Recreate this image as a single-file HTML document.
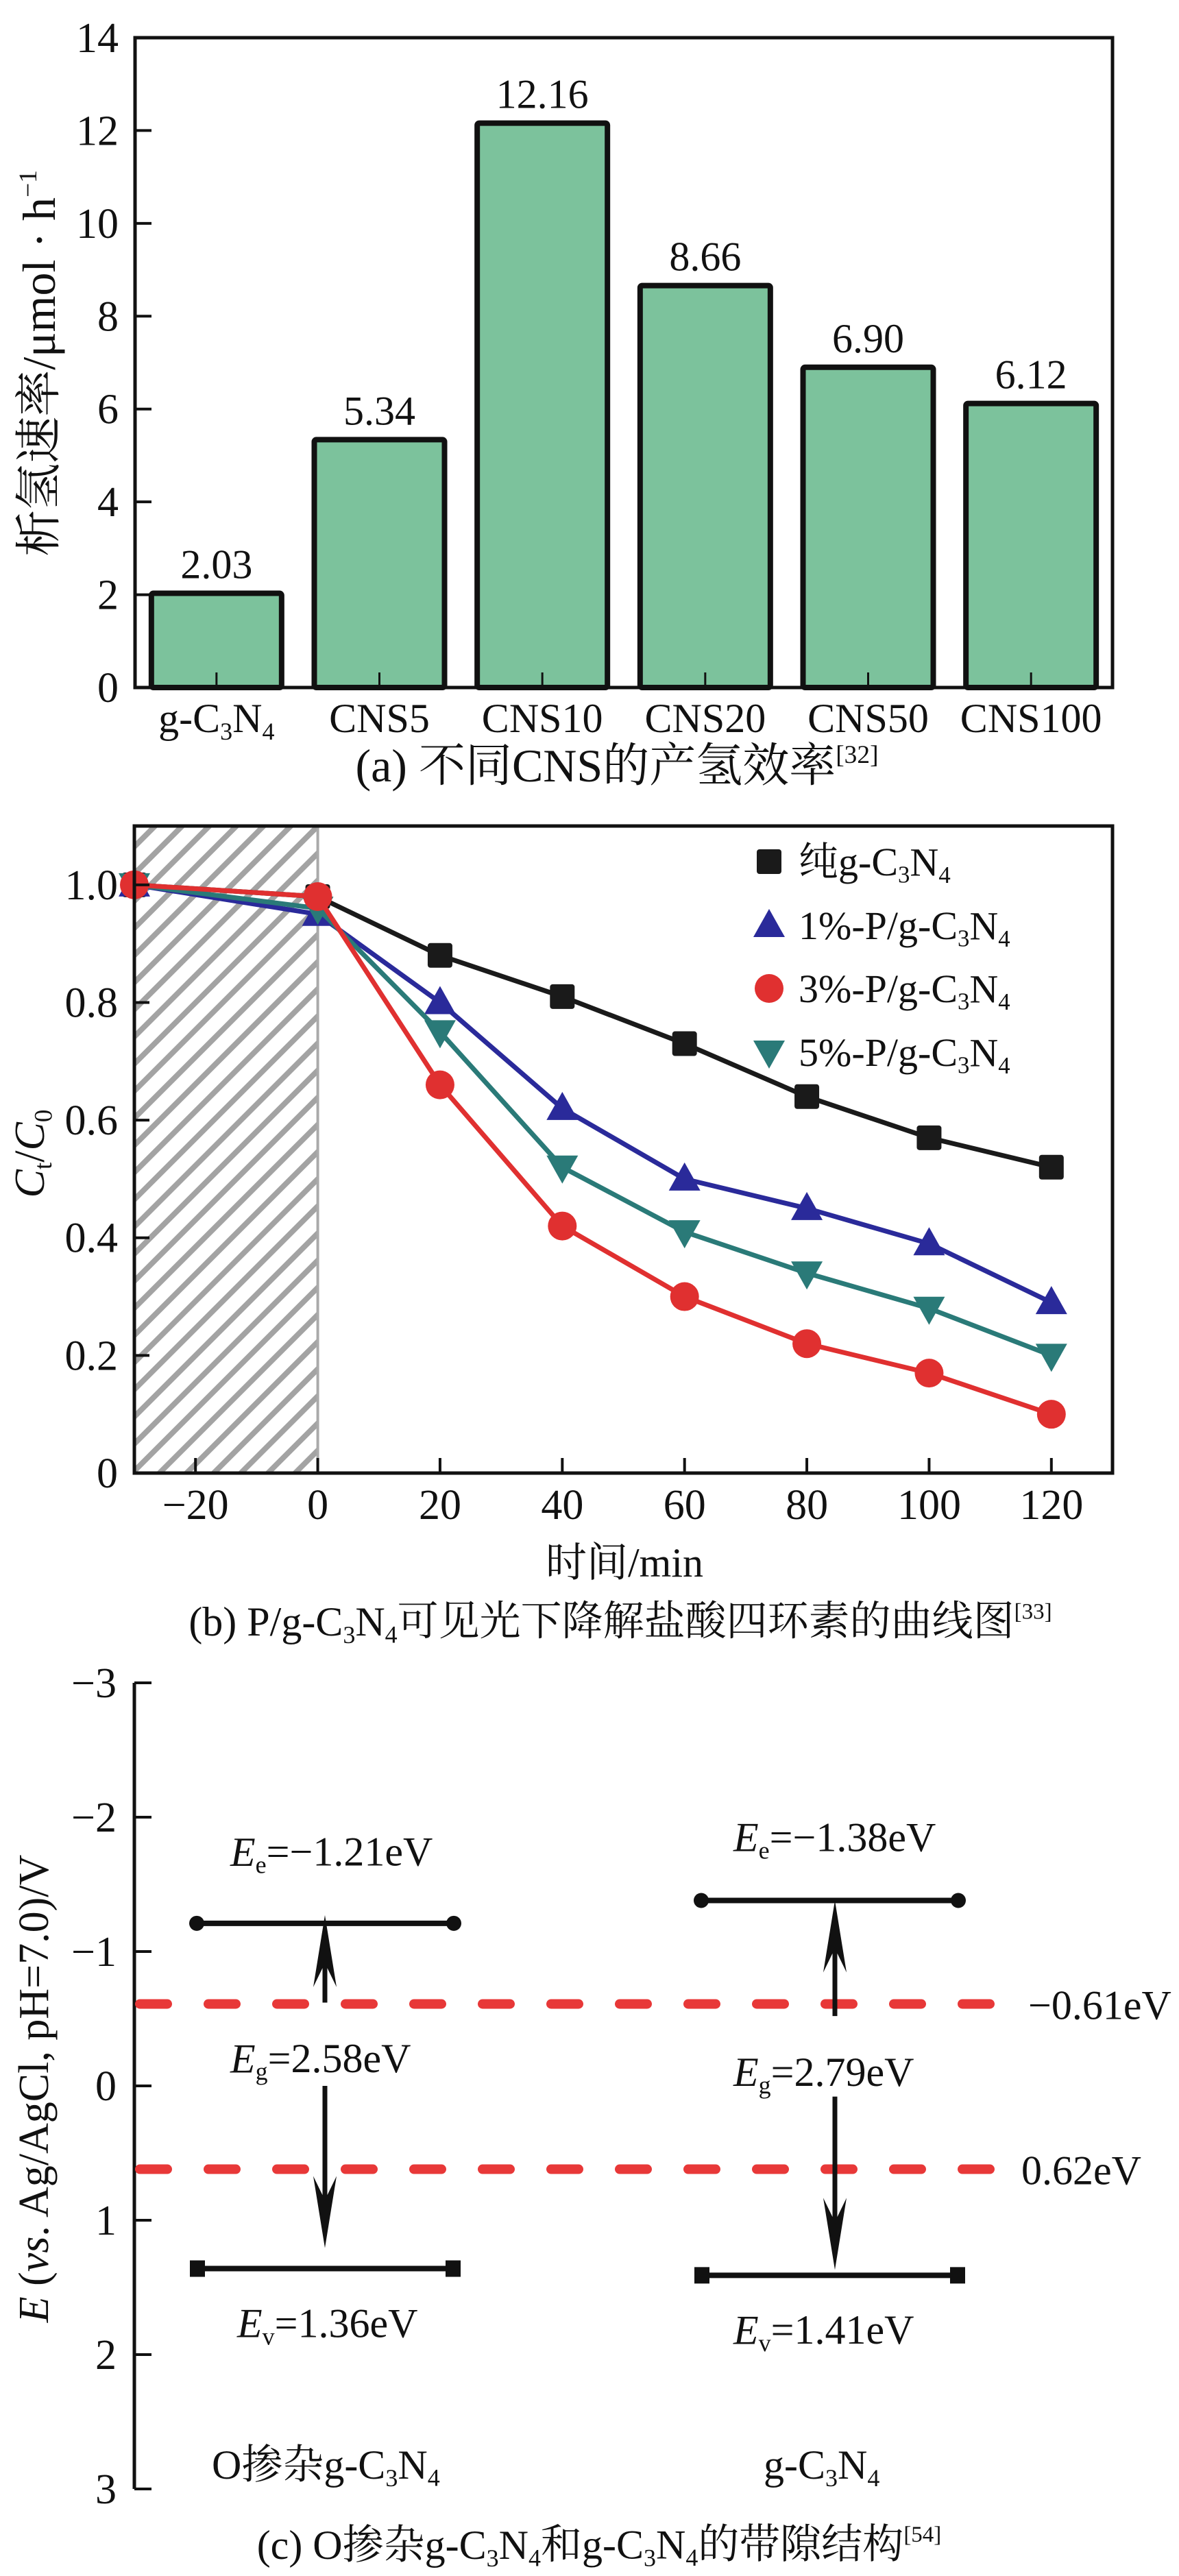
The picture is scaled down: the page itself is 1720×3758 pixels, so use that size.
<!DOCTYPE html>
<html><head><meta charset="utf-8">
<style>
html,body{margin:0;padding:0;background:#fff;}
svg{display:block;}
text{font-family:"Liberation Serif","Noto Serif CJK SC",serif;fill:#111;}
</style></head>
<body>
<svg id="fig" width="1720" height="3758" viewBox="0 0 1720 3758" xmlns="http://www.w3.org/2000/svg">
<defs>
<pattern id="hatch" patternUnits="userSpaceOnUse" width="28" height="28" patternTransform="rotate(45)">
<rect width="28" height="28" fill="#fff"/>
<rect x="0" y="0" width="8" height="28" fill="#a3a3a3"/>
</pattern>
</defs>
<g id="chartA"></g>
<g id="chartB"></g>
<g id="chartC"></g>
</svg>
<script>
// ---------- Chart A data ----------
const aCategories = ["g-C3N4","CNS5","CNS10","CNS20","CNS50","CNS100"];
const aValues = [2.03, 5.34, 12.16, 8.66, 6.90, 6.12];
const aValueLabels = ["2.03","5.34","12.16","8.66","6.90","6.12"];
const aTicks = [0,2,4,6,8,10,12,14];

// ---------- Chart B data ----------
const bTimes = [-30, 0, 20, 40, 60, 80, 100, 120];
const bPure = [1.0, 0.98, 0.88, 0.81, 0.73, 0.64, 0.57, 0.52];
const bP1 = [1.0, 0.95, 0.80, 0.62, 0.50, 0.45, 0.39, 0.29];
const bP3 = [1.0, 0.98, 0.66, 0.42, 0.30, 0.22, 0.17, 0.10];
const bP5 = [1.0, 0.96, 0.75, 0.52, 0.41, 0.34, 0.28, 0.20];
const bXTicks = [-20, 0, 20, 40, 60, 80, 100, 120];
const bYTicks = [0, 0.2, 0.4, 0.6, 0.8, 1.0];
const bYTickLabels = ["0","0.2","0.4","0.6","0.8","1.0"];

// ---------- Chart C data ----------
const cYTicks = [-3,-2,-1,0,1,2,3];
const cCB = [-1.21, -1.38];
const cVB = [1.36, 1.41];
const cGap = ["2.58", "2.79"];
const cRefLevels = [-0.61, 0.62];
const cRefLabels = ["\u22120.61eV", "0.62eV"];

const NS = "http://www.w3.org/2000/svg";
function mk(parent, tag, attrs, txt){
  const e = document.createElementNS(NS, tag);
  for (const k in attrs) e.setAttribute(k, attrs[k]);
  if (txt !== undefined) e.textContent = txt;
  parent.appendChild(e);
  return e;
}
function chemText(parent, x, y, size, anchor, parts){
  const t = mk(parent, "text", {x:x, y:y, "font-size":size, "text-anchor":anchor});
  parts.forEach(p=>{
    const s = mk(t, "tspan", {});
    s.textContent = p[0];
    if (p[1]==="sub"){ s.setAttribute("font-size", size*0.6); s.setAttribute("dy", size*0.18); }
    else if (p[1]==="sup"){ s.setAttribute("font-size", size*0.55); s.setAttribute("dy", -size*0.4); }
    else if (p[1]==="i"){ s.setAttribute("font-style","italic"); }
    if (p[2]) s.setAttribute("dy", p[2]);
  });
  return t;
}
function gc3n4(sz){ return [["g-C","n"],["3","sub"],["N","n",-sz*0.18],["4","sub"]]; }

// ================= Chart A =================
(function(){
  const g = document.getElementById("chartA");
  const L=197, R=1623, T=55, B=1003;
  const yMax=14;
  const y = v => B - v/yMax*(B-T);
  const step = (R-L)/aCategories.length;
  const xc = i => L + step*(i+0.5);
  const bw = 190;
  aValues.forEach((v,i)=>{
    const r = mk(g,"rect",{x:xc(i)-bw/2, y:y(v), width:bw, height:B-y(v), fill:"#7cc29c", stroke:"#111", "stroke-width":8, rx:3});
    
    
    const t = mk(g,"text",{x:xc(i), y:y(v)-22, "font-size":60, "text-anchor":"middle"}, aValueLabels[i]);
    
    
    mk(g,"line",{x1:xc(i),x2:xc(i),y1:B,y2:B-22,stroke:"#111","stroke-width":3});
  });
  const fr = mk(g,"rect",{x:L,y:T,width:R-L,height:B-T,fill:"none",stroke:"#111","stroke-width":5});
  
  
  aTicks.forEach(v=>{
    mk(g,"line",{x1:L,x2:L+24,y1:y(v),y2:y(v),stroke:"#111","stroke-width":4});
    const t = mk(g,"text",{x:173,y:y(v)+21,"font-size":62,"text-anchor":"end"}, String(v));
    
    
  });
  aCategories.forEach((c,i)=>{
    let t;
    if (c==="g-C3N4") t = chemText(g, xc(i), 1068, 60, "middle", gc3n4(60));
    else t = mk(g,"text",{x:xc(i), y:1068, "font-size":60, "text-anchor":"middle"}, c);
    
    
  });
  const yt = chemText(g, 0, 0, 68, "middle", [["析氢速率/μmol · h","n"],["−1","sup"]]);
  yt.setAttribute("transform","translate(80,530) rotate(-90)");
  
  
  const cap = chemText(g, 900, 1140, 68, "middle", [["(a) 不同CNS的产氢效率","n"],["[32]","sup"]]);
  
  
})();

// ================= Chart B =================
(function(){
  const g = document.getElementById("chartB");
  const L=196, R=1623, T=1205, B=2149;
  const xMin=-30, xMax=130, yMax=1.1;
  const x = v => L + (v-xMin)/(xMax-xMin)*(R-L);
  const y = v => B - v/yMax*(B-T);
  const hz = mk(g,"rect",{x:L,y:T,width:x(0)-L,height:B-T,fill:"url(#hatch)"});
  
  
  mk(g,"line",{x1:x(0),x2:x(0),y1:T,y2:B,stroke:"#aaa","stroke-width":4});
  const series = [
    {name:"pure-g-c3n4", data:bPure, color:"#1a1a1a", m:"square"},
    {name:"1pct-p-g-c3n4", data:bP1, color:"#2a2a9a", m:"tri"},
    {name:"5pct-p-g-c3n4", data:bP5, color:"#2a7a78", m:"tridown"},
    {name:"3pct-p-g-c3n4", data:bP3, color:"#e03030", m:"circle"}
  ];
  function marker(parent, m, cx, cy, color){
    let e;
    if (m==="square") e = mk(parent,"rect",{x:cx-18,y:cy-18,width:36,height:36,fill:color,rx:4});
    else if (m==="circle") e = mk(parent,"circle",{cx:cx,cy:cy,r:21,fill:color});
    else if (m==="tri") e = mk(parent,"polygon",{points:`${cx},${cy-24} ${cx+23},${cy+17} ${cx-23},${cy+17}`,fill:color});
    else e = mk(parent,"polygon",{points:`${cx},${cy+24} ${cx+23},${cy-17} ${cx-23},${cy-17}`,fill:color});
    return e;
  }
  series.forEach(s=>{
    const sg = mk(g,"g",{});
    
    
    const pts = s.data.map((v,i)=>x(bTimes[i])+","+y(v)).join(" ");
    mk(sg,"polyline",{points:pts,fill:"none",stroke:s.color,"stroke-width":7,"stroke-linejoin":"round"});
    s.data.forEach((v,i)=>{
      const mm = marker(sg, s.m, x(bTimes[i]), y(v), s.color);
      
      
    });
  });
  const fr = mk(g,"rect",{x:L,y:T,width:R-L,height:B-T,fill:"none",stroke:"#111","stroke-width":5});
  
  
  bXTicks.forEach(v=>{
    mk(g,"line",{x1:x(v),x2:x(v),y1:B,y2:B-22,stroke:"#111","stroke-width":4});
    const t = mk(g,"text",{x:x(v),y:2216,"font-size":62,"text-anchor":"middle"}, v<0?"\u2212"+(-v):String(v));
    
    
  });
  bYTicks.forEach((v,i)=>{
    mk(g,"line",{x1:L,x2:L+22,y1:y(v),y2:y(v),stroke:"#111","stroke-width":4});
    const t = mk(g,"text",{x:172,y:y(v)+21,"font-size":62,"text-anchor":"end"}, bYTickLabels[i]);
    
    
  });
  const legend = [
    {m:"square", c:"#1a1a1a", parts:[["纯g-C","n"],["3","sub"],["N","n",-10],["4","sub"]]},
    {m:"tri", c:"#2a2a9a", parts:[["1%-P/g-C","n"],["3","sub"],["N","n",-10],["4","sub"]]},
    {m:"circle", c:"#e03030", parts:[["3%-P/g-C","n"],["3","sub"],["N","n",-10],["4","sub"]]},
    {m:"tridown", c:"#2a7a78", parts:[["5%-P/g-C","n"],["3","sub"],["N","n",-10],["4","sub"]]}
  ];
  const ly = [1257,1350,1442,1535];
  legend.forEach((l,i)=>{
    const lg = mk(g,"g",{});
    
    
    marker(lg, l.m, 1122, ly[i], l.c);
    chemText(lg, 1165, ly[i]+20, 58, "start", l.parts);
  });
  const xt = mk(g,"text",{x:911,y:2300,"font-size":60,"text-anchor":"middle"},"时间/min");
  
  
  const yt = chemText(g, 0, 0, 62, "middle", [["C","i"],["t","sub"],["/","n",-11],["C","i"],["0","sub"]]);
  yt.setAttribute("transform","translate(64,1683) rotate(-90)");
  
  
  const cap = chemText(g, 905, 2386, 60, "middle", [["(b) P/g-C","n"],["3","sub"],["N","n",-11],["4","sub"],["可见光下降解盐酸四环素的曲线图","n",-11],["[33]","sup"]]);
  
  
})();

// ================= Chart C =================
(function(){
  const g = document.getElementById("chartC");
  const L=196, y0=3043, per=196;
  const y = v => y0 + v*per;
  const ax = mk(g,"line",{x1:L,x2:L,y1:y(-3),y2:y(3),stroke:"#111","stroke-width":5});
  
  
  cYTicks.forEach(v=>{
    mk(g,"line",{x1:L,x2:L+25,y1:y(v),y2:y(v),stroke:"#111","stroke-width":4});
    const t = mk(g,"text",{x:170,y:y(v)+21,"font-size":62,"text-anchor":"end"}, v<0?"\u2212"+(-v):String(v));
    
    
  });
  cRefLevels.forEach((v,i)=>{
    const d = mk(g,"line",{x1:L+8,x2:1470,y1:y(v),y2:y(v),stroke:"#e83838","stroke-width":14,"stroke-dasharray":"40 60","stroke-linecap":"round"});
    
    
    const t = mk(g,"text",{x:i===0?1500:1490,y:y(v)+22,"font-size":60,"text-anchor":"start"}, cRefLabels[i]);
    
    
  });
  const cols = [{x1:287,x2:662,ax:474,lx:336,name:"o-doped"},{x1:1023,x2:1398,ax:1218,lx:1070,name:"pure"}];
  function arrow(x, yFrom, yTo){
    const dir = yTo<yFrom ? -1 : 1;
    mk(g,"line",{x1:x,x2:x,y1:yFrom,y2:yTo-dir*40,stroke:"#111","stroke-width":7});
    mk(g,"polygon",{points:`${x},${yTo} ${x-17},${yTo-dir*105} ${x},${yTo-dir*70} ${x+17},${yTo-dir*105}`,fill:"#111"});
  }
  cols.forEach((c,i)=>{
    const cg = mk(g,"g",{});
    
    
    const yc = y(cCB[i]), yv = y(cVB[i]);
    mk(cg,"line",{x1:c.x1,x2:c.x2,y1:yc,y2:yc,stroke:"#111","stroke-width":8});
    mk(cg,"circle",{cx:c.x1,cy:yc,r:11,fill:"#111"});
    mk(cg,"circle",{cx:c.x2,cy:yc,r:11,fill:"#111"});
    mk(cg,"line",{x1:c.x1,x2:c.x2,y1:yv,y2:yv,stroke:"#111","stroke-width":8});
    mk(cg,"rect",{x:c.x1-10,y:yv-12,width:22,height:24,fill:"#111"});
    mk(cg,"rect",{x:c.x2-12,y:yv-12,width:22,height:24,fill:"#111"});
    arrow(c.ax, y(-0.62+i*0.1), yc-(i?0:12));
    arrow(c.ax, y(-0.0+i*0.08), yv-(i?8:30));
    chemText(cg, c.lx, yc-84+(i?12:0), 60, "start", [["E","i"],["e","sub"],["=\u2212"+Math.abs(cCB[i]).toFixed(2)+"eV","n",-11]]);
    chemText(cg, c.lx, y(-0.1+i*0.1), 60, "start", [["E","i"],["g","sub"],["="+cGap[i]+"eV","n",-11]]);
    chemText(cg, c.lx+(i?0:10), yv+100, 60, "start", [["E","i"],["v","sub"],["="+cVB[i].toFixed(2)+"eV","n",-11]]);
  });
  const n1 = chemText(g, 309, 3616, 60, "start", [["O掺杂g-C","n"],["3","sub"],["N","n",-11],["4","sub"]]);
  
  
  const n2 = chemText(g, 1114, 3616, 60, "start", gc3n4(60));
  
  
  const yt = chemText(g, 0, 0, 62, "middle", [["E","i"],[" (","n"],["vs","i"],[". Ag/AgCl, pH=7.0)/V","n"]]);
  yt.setAttribute("transform","translate(70,3047) rotate(-90)");
  
  
  const cap = chemText(g, 874, 3733, 60, "middle", [["(c) O掺杂g-C","n"],["3","sub"],["N","n",-11],["4","sub"],["和g-C","n",-11],["3","sub"],["N","n",-11],["4","sub"],["的带隙结构","n",-11],["[54]","sup"]]);
  
  
})();
</script>
</body></html>
